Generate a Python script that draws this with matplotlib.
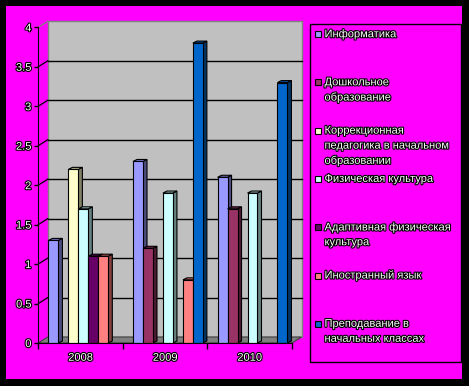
import numpy as np
import matplotlib
matplotlib.use('Agg')
import matplotlib.pyplot as plt
from matplotlib.patches import Rectangle, Polygon
import matplotlib.patheffects as pe

plt.rcParams['font.family'] = ['Liberation Sans', 'DejaVu Sans']

# data
years = ['2008', '2009', '2010']
series = ['Информатика', 'Дошкольное\nобразование',
          'Коррекционная\nпедагогика в начальном\nобразовании',
          'Физическая культура', 'Адаптивная физическая\nкультура',
          'Иностранный язык', 'Преподавание в\nначальных классах']
informatika = [1.3, 2.3, 2.1]
doshkolnoe = [None, 1.2, 1.7]
korrektsionnaya = [2.2, None, None]
fizicheskaya = [1.7, 1.9, 1.9]
adaptivnaya = [1.1, None, None]
inostranny = [1.1, 0.8, None]
prepodavanie = [None, 3.8, 3.3]
values = [informatika, doshkolnoe, korrektsionnaya, fizicheskaya,
          adaptivnaya, inostranny, prepodavanie]
colors = ['#9999FF', '#993366', '#FFFFCC', '#CCFFFF', '#660066', '#FF8080', '#0066CC']
yticks = [0, 0.5, 1, 1.5, 2, 2.5, 3, 3.5, 4]

W, H = 469, 386
fig = plt.figure(figsize=(W / 100, H / 100), dpi=100, facecolor='black')

def fx(x):
    return x / W

def fy(y):
    return 1 - y / H

# magenta chart area
fig.patches.append(Rectangle((fx(6), fy(379)), fx(456), (379 - 6) / H,
                             transform=fig.transFigure, facecolor='#FF00FF',
                             edgecolor='none', zorder=-5))

outline = [pe.withStroke(linewidth=1.6, foreground='black')]

# front plane of the plot
left, right, top, bottom = 38.3, 292, 27.3, 343
ax = fig.add_axes([fx(left), fy(bottom), (right - left) / W, (bottom - top) / H])
ax.set_zorder(1)
ax.set_facecolor('none')
ax.set_xlim(-0.5, 2.5)
ax.set_ylim(0, 4)

px = 3 / (right - left)   # data units per pixel (x)
py = 4 / (bottom - top)   # data units per pixel (y)
wx, wy = 9.5 * px, 6 * py  # wall depth
bx, by = 4 * px, 2 * py    # bar depth

# back wall, floor and grid
ax.add_patch(Rectangle((-0.5 + wx, wy), 3, 4, facecolor='#C0C0C0',
                       edgecolor='#808080', lw=1, zorder=0.5, clip_on=False))
ax.add_patch(Polygon([(-0.5, 0), (-0.5 + wx, wy), (2.5 + wx, wy), (2.5, 0)],
                     closed=True, facecolor='#808080', edgecolor='#404040',
                     lw=0.8, zorder=0.6, clip_on=False))
for v in yticks[1:-1]:
    ax.plot([-0.5 + wx, 2.5 + wx], [v + wy, v + wy], color='black', lw=1,
            zorder=0.7, clip_on=False)
for v in yticks[1:]:
    c = '#808080' if v == 4 else 'black'
    ax.plot([-0.5, -0.5 + wx], [v, v + wy], color=c, lw=0.9, zorder=0.7,
            clip_on=False)

# 3D-looking bars
slot = 0.118
start = 0.12
for k, (vals, col) in enumerate(zip(values, colors)):
    rgb = np.array(matplotlib.colors.to_rgb(col))
    side = rgb * 0.5
    topc = rgb * 0.8
    xs, hs = [], []
    for i, v in enumerate(vals):
        if v is None:
            continue
        x0 = i - 0.5 + start + k * slot
        x1 = x0 + slot
        ax.add_patch(Polygon([(x1, 0), (x1 + bx, by), (x1 + bx, v + by), (x1, v)],
                             closed=True, facecolor=side, edgecolor='black',
                             lw=0.8, zorder=3 + 2 * k, clip_on=False))
        ax.add_patch(Polygon([(x0, v), (x0 + bx, v + by), (x1 + bx, v + by), (x1, v)],
                             closed=True, facecolor=topc, edgecolor='black',
                             lw=0.8, zorder=3 + 2 * k, clip_on=False))
        xs.append(x0)
        hs.append(v)
    ax.bar(xs, hs, width=slot, align='edge', color=col, edgecolor='black',
           lw=0.8, zorder=4 + 2 * k)

# axes and ticks
for s in ['top', 'right']:
    ax.spines[s].set_visible(False)
ax.spines['left'].set_color('black')
ax.spines['bottom'].set_color('black')
ax.spines['left'].set_zorder(20)
ax.spines['bottom'].set_zorder(20)
ax.set_yticks(yticks)
ax.set_yticklabels([('%g' % v) for v in yticks])
ax.tick_params(axis='y', direction='out', length=3, width=1, pad=2,
               labelsize=8, labelcolor='white', colors='black')
ax.set_xticks([-0.5, 0.5, 1.5, 2.5])
ax.set_xticklabels([])
ax.set_xticks([0, 1, 2], minor=True)
ax.set_xticklabels(years, minor=True)
ax.tick_params(axis='x', which='major', direction='out', length=4, width=1)
ax.tick_params(axis='x', which='minor', length=0, pad=7, labelsize=8,
               labelcolor='white')
for t in ax.get_yticklabels() + ax.get_xticklabels(minor=True):
    t.set_path_effects(outline)

# legend
fig.patches.append(Rectangle((fx(310), fy(362)), fx(151), (362 - 24) / H,
                             transform=fig.transFigure, facecolor='none',
                             edgecolor='black', lw=1, zorder=5))
for k, (name, col) in enumerate(zip(series, colors)):
    yc = 34 + k * 48.3
    fig.patches.append(Rectangle((fx(315), fy(yc + 3)), fx(6), 6 / H,
                                 transform=fig.transFigure, facecolor=col,
                                 edgecolor='black', lw=0.8, zorder=6))
    for j, line in enumerate(name.split('\n')):
        fig.text(fx(324.5), fy(yc + j * 15), line, fontsize=8, color='white',
                 va='center', ha='left', path_effects=outline)

fig.savefig('out.png', dpi=100, facecolor='black')
